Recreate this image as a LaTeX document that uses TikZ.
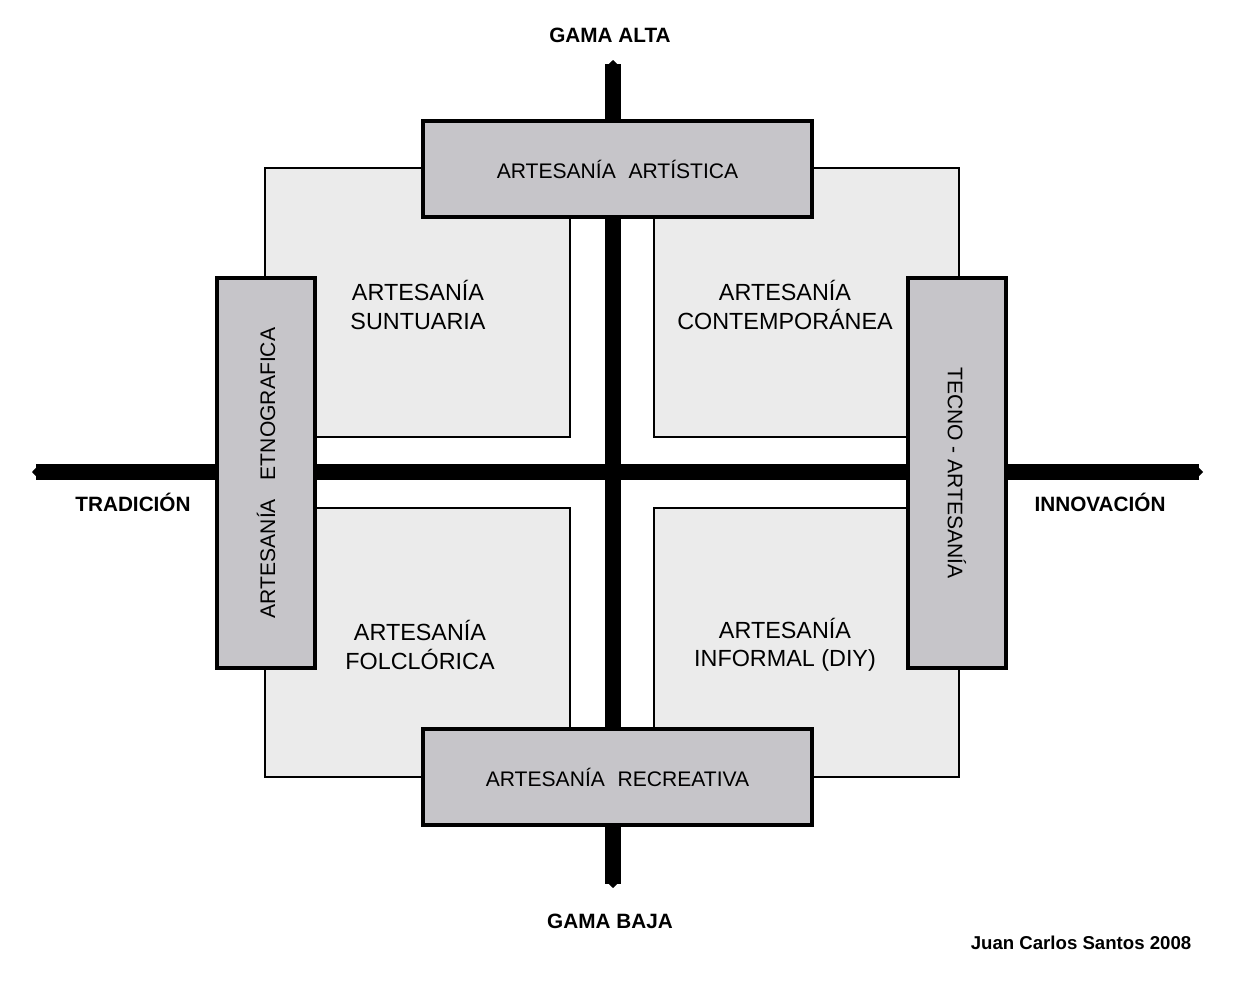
\documentclass[tikz,border=0pt]{standalone}
\usepackage{fontspec}
\setmainfont{Liberation Sans}
\usetikzlibrary{arrows.meta}
\definecolor{boxgray}{RGB}{198,197,201}
\definecolor{panelgray}{RGB}{235,235,235}

\begin{document}
\begin{tikzpicture}[x=0.02cm,y=-0.02cm]
\path [use as bounding box] (0,0) rectangle (1260,983);
\tikzstyle{panel} = [rectangle, draw, fill=panelgray, line width=1.4pt, minimum width=6.1cm, minimum height=5.38cm, inner sep=0pt]
\tikzstyle{clase} = [rectangle, draw, fill=boxgray, line width=2.3pt, inner sep=0pt, font=\fontsize{12}{14}\selectfont]
\tikzstyle{quad} = [align=center, font=\fontsize{13.3}{16}\selectfont]
\tikzstyle{eje} = [line width=9pt, {Triangle[length=2.5pt,width=5pt]}-{Triangle[length=2.5pt,width=5pt]}]
\tikzstyle{polo} = [font=\fontsize{11.8}{14}\selectfont\bfseries]
% cuadrantes
\node[panel] (nw) at (417.5,302.5) {};
\node[panel] (ne) at (806.5,302.5) {};
\node[panel] (sw) at (417.5,642.5) {};
\node[panel] (se) at (806.5,642.5) {};
\node[quad] (suntuaria) at (418,305) {ARTESANÍA\\SUNTUARIA};
\node[quad] (contemp) at (785,305) {ARTESANÍA\\CONTEMPORÁNEA};
\node[quad] (folclor) at (420,645) {ARTESANÍA\\FOLCLÓRICA};
\node[quad] (informal) at (785,645) {ARTESANÍA\\INFORMAL (DIY)};
% ejes
\coordinate (alta) at (613,60);
\coordinate (baja) at (613,888);
\coordinate (trad) at (32,472);
\coordinate (innov) at (1203,472);
\draw[eje] (baja) -- (alta);
\draw[eje] (trad) -- (innov);
% cajas
\node[clase, minimum width=7.78cm, minimum height=1.92cm] (artistica) at (617.5,169) {ARTESANÍA\hspace{0.6em}ARTÍSTICA};
\node[clase, minimum width=7.78cm, minimum height=1.92cm] (recreativa) at (617.5,777) {ARTESANÍA\hspace{0.6em}RECREATIVA};
\node[clase, minimum width=1.96cm, minimum height=7.8cm] (etno) at (266,473) {};
\node[rotate=90, font=\fontsize{12}{14}\selectfont] (etnotxt) at (etno) {ARTESANÍA\hspace{0.9em}ETNOGRAFICA};
\node[clase, minimum width=1.96cm, minimum height=7.8cm] (tecno) at (957,473) {};
\node[rotate=-90, font=\fontsize{12}{14}\selectfont] (tecnotxt) at (tecno) {TECNO - ARTESANÍA};
% polos
\node[polo] (gamaalta) at (610,35) {GAMA ALTA};
\node[polo] (gamabaja) at (610,921) {GAMA BAJA};
\node[polo] (tradicion) at (133,502) {TRADICIÓN};
\node[polo] (innovacion) at (1100,502) {INNOVACIÓN};
\node[font=\fontsize{10.6}{12}\selectfont\bfseries] (autor) at (1081,943) {Juan Carlos Santos 2008};
\end{tikzpicture}
\end{document}
